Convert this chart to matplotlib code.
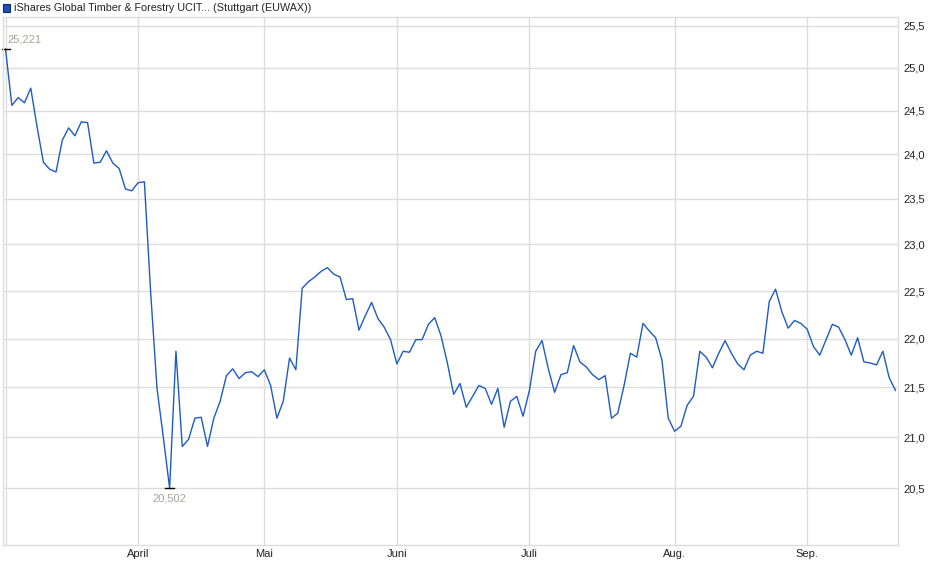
import matplotlib
matplotlib.use('Agg')
import matplotlib.pyplot as plt
from matplotlib.patches import Rectangle

# Kursdaten (Stuttgart / EUWAX), ein Wert je Handelstag, Maerz bis Sep.
march = [25.221, 24.56, 24.65, 24.59, 24.76, 24.31, 23.91, 23.83, 23.80, 24.16, 24.30,
         24.21, 24.37, 24.36, 23.90, 23.91, 24.04, 23.90, 23.84, 23.61, 23.59]
april = [23.68, 23.69, 22.48, 21.49, 21.00, 20.502, 21.87, 20.91, 20.98, 21.19,
         21.20, 20.91, 21.19, 21.36, 21.62, 21.69, 21.59, 21.65, 21.66, 21.61]
mai = [21.68, 21.52, 21.19, 21.36, 21.80, 21.68, 22.53, 22.60, 22.65, 22.71, 22.75,
       22.68, 22.65, 22.41, 22.42, 22.09, 22.24, 22.38, 22.21, 22.12, 21.99]
juni = [21.74, 21.87, 21.86, 21.99, 21.99, 22.15, 22.22, 22.03, 21.75, 21.43, 21.54,
        21.30, 21.41, 21.52, 21.49, 21.33, 21.49, 21.10, 21.36, 21.41, 21.21]
juli = [21.47, 21.87, 21.98, 21.69, 21.45, 21.63, 21.65, 21.93, 21.76, 21.71, 21.63, 21.58,
        21.62, 21.19, 21.24, 21.52, 21.85, 21.81, 22.16, 22.08, 22.01, 21.78, 21.19]
aug = [21.06, 21.11, 21.32, 21.41, 21.87, 21.81, 21.70, 21.85, 21.98, 21.85, 21.74,
       21.68, 21.83, 21.87, 21.85, 22.39, 22.52, 22.28, 22.11, 22.19, 22.16]
sep = [22.10, 21.92, 21.83, 21.99, 22.15, 22.12, 21.99, 21.83, 22.01, 21.76, 21.75,
       21.73, 21.87, 21.60, 21.47]

months = [march, april, mai, juni, juli, aug, sep]
month_labels = ['', 'April', 'Mai', 'Juni', 'Juli', 'Aug.', 'Sep.']
y_ticks = [20.5, 21.0, 21.5, 22.0, 22.5, 23.0, 23.5, 24.0, 24.5, 25.0, 25.5]
title = 'iShares Global Timber & Forestry UCIT... (Stuttgart (EUWAX))'

prices = []
month_starts = []
for m in months:
    month_starts.append(len(prices))
    prices += m
days = list(range(len(prices)))

plt.rcParams['font.family'] = ['Liberation Sans', 'DejaVu Sans']
grid_col = '#dcdcdc'
line_col = '#1f5bc4'

fig = plt.figure(figsize=(9.4, 5.79), dpi=100)
ax = fig.add_axes([3 / 940, 1 - 545 / 579, 895 / 940, 528.4 / 579])

ax.plot(days, prices, color=line_col, linewidth=1.0)
ax.set_yscale('log')
ax.set_ylim(19.96, 25.61)
ax.set_xlim(-0.4, len(prices) - 0.6)

ax.set_yticks(y_ticks)
ax.set_yticklabels([('%.1f' % v).replace('.', ',') for v in y_ticks])
ax.minorticks_off()
ax.yaxis.tick_right()
ax.set_xticks(month_starts)
ax.set_xticklabels(month_labels)
ax.tick_params(axis='both', length=0, labelsize=8, colors='#222222')
ax.tick_params(axis='y', pad=4)
ax.tick_params(axis='x', pad=3)
ax.grid(True, color=grid_col, linewidth=1.0)
ax.set_axisbelow(True)
for s in ax.spines.values():
    s.set_color(grid_col)
    s.set_linewidth(1.0)

# Hoch / Tief markieren
i_max = prices.index(max(prices))
i_min = prices.index(min(prices))
ax.plot([i_max - 0.6, i_max + 0.75], [prices[i_max]] * 2, color='black',
        linewidth=1.0, clip_on=False)
ax.plot([i_min - 0.75, i_min + 0.75], [prices[i_min]] * 2, color='black', linewidth=1.0)
ax.annotate(('%.3f' % prices[i_max]).replace('.', ','), (i_max, prices[i_max]),
            xytext=(1.5, 3), textcoords='offset points', ha='left', va='bottom',
            fontsize=8, color='#a8a29a')
ax.annotate(('%.3f' % prices[i_min]).replace('.', ','), (i_min, prices[i_min]),
            xytext=(0, -4), textcoords='offset points', ha='center', va='top',
            fontsize=8, color='#a8a29a')

# Legende oben links
fig.patches.append(Rectangle((3 / 940, 1 - 11.5 / 579), 7 / 940, 7 / 579,
                             transform=fig.transFigure, facecolor='#1f4fb5',
                             edgecolor='#0d2a66', linewidth=0.8))
fig.text(14 / 940, 1 - 8 / 579, title, fontsize=7.75, color='#222222', va='center', ha='left')

plt.savefig('out.png', dpi=100)
